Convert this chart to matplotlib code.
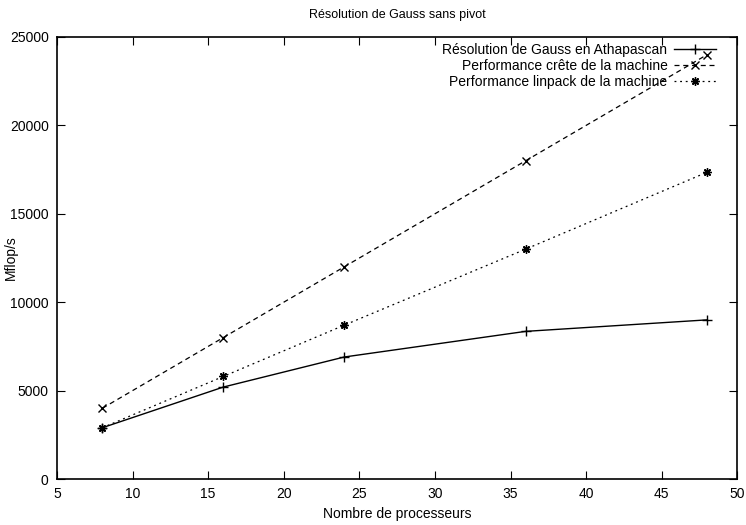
import matplotlib
matplotlib.use("Agg")
import matplotlib.pyplot as plt

plt.rcParams['font.family'] = ['Liberation Sans', 'DejaVu Sans']

# data
procs = [8, 16, 24, 36, 48]
gauss = [2900, 5200, 6900, 8350, 9000]
crete = [4000, 8000, 12000, 18000, 24000]
linpack = [2900, 5800, 8700, 13000, 17350]

fig = plt.figure(figsize=(7.46, 5.25), dpi=100)
ax = fig.add_axes([0.0764, 0.0876, 0.912, 0.842])

ax.plot(procs, gauss, color='black', lw=1, marker='+', ms=7, mew=1,
        label="Résolution de Gauss en Athapascan")
ax.plot(procs, crete, color='black', lw=0.9, ls=(0, (4, 3)), marker='x', ms=6, mew=1,
        label="Performance crête de la machine")
ax.plot(procs, linpack, color='black', lw=0.9, ls=(0, (1.5, 3)), marker=(8, 2, 0), ms=6, mew=1,
        label="Performance linpack de la machine")

ax.set_xlim(5, 50)
ax.set_ylim(0, 25000)
ax.set_xticks(range(5, 51, 5))
ax.set_yticks(range(0, 25001, 5000))
ax.tick_params(direction='in', top=True, right=True, length=6, labelsize=10, pad=6)
for s in ax.spines.values():
    s.set_linewidth(1.2)

ax.set_xlabel("Nombre de processeurs", fontsize=10)
ax.set_ylabel("Mflop/s", fontsize=10)
ax.yaxis.set_label_coords(-0.057, 0.5)
ax.set_title("Résolution de Gauss sans pivot", fontsize=9, pad=14)

leg = ax.legend(loc='upper right', bbox_to_anchor=(0.981, 1.005), frameon=False,
                markerfirst=False, fontsize=10, handlelength=3.0, borderaxespad=0.2,
                labelspacing=0.15, handletextpad=0.5)
for t in leg.get_texts():
    t.set_ha('right')
leg._legend_box.align = 'right'

fig.savefig("out.png", dpi=100)
